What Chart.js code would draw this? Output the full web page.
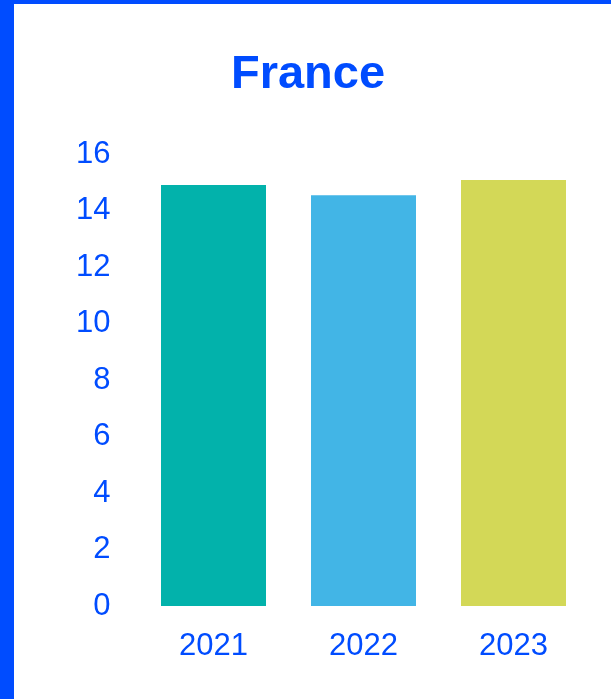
<!DOCTYPE html>
<html>
<head>
<meta charset="utf-8">
<script src="https://cdn.jsdelivr.net/npm/chart.js@4"></script>
<style>
  html, body { margin: 0; padding: 0; background: #ffffff; overflow: hidden; }
  #frame { position: absolute; left: 0; top: 0; width: 597px; height: 695px;
           border-left: 14px solid #004cff; border-top: 4px solid #004cff; background: #fff; }
  #c { display: block; }
</style>
</head>
<body>
<div id="frame"><canvas id="c" width="597" height="695"></canvas></div>
<script>
const titleText = "France";
const categories = ["2021", "2022", "2023"];
const values = [14.92, 14.56, 15.1];
const barColors = ["#02b2ab", "#42b5e6", "#d3d857"];
const yTicks = [0, 2, 4, 6, 8, 10, 12, 14, 16];

const textBlue = "#004cff";
const fontFamily = "'Liberation Sans', Arial, sans-serif";

new Chart(document.getElementById("c"), {
  type: "bar",
  data: {
    labels: categories,
    datasets: [{
      data: values,
      backgroundColor: barColors,
      borderWidth: 0,
      barPercentage: 0.7,
      categoryPercentage: 1.0
    }]
  },
  options: {
    responsive: false,
    animation: false,
    devicePixelRatio: 1,
    layout: { padding: { left: 0, right: 9, top: 0, bottom: 0 } },
    plugins: {
      legend: { display: false },
      tooltip: { enabled: false },
      title: {
        display: true,
        text: titleText,
        color: textBlue,
        font: { family: fontFamily, size: 47, weight: "bold", lineHeight: 1.2 },
        padding: { top: 43.3, bottom: 50.8 }
      }
    },
    scales: {
      x: {
        grid: { display: false, drawTicks: false, drawOnChartArea: false },
        border: { display: false },
        ticks: { color: textBlue, font: { family: fontFamily, size: 31 }, padding: 22, maxRotation: 0 },
        afterFit: (s) => { s.height = 93; }
      },
      y: {
        min: 0,
        max: 16,
        grid: { display: false, drawTicks: false, drawOnChartArea: false },
        border: { display: false },
        afterBuildTicks: (s) => { s.ticks = yTicks.map(v => ({ value: v })); },
        ticks: { color: textBlue, font: { family: fontFamily, size: 31 }, padding: 28 },
        afterFit: (s) => { s.width = 124.5; }
      },
      yRight: {
        position: "right",
        min: 0,
        max: 16,
        grid: { display: false, drawTicks: false, drawOnChartArea: false },
        border: { display: false },
        ticks: { display: false },
        afterFit: (s) => { s.width = 13.5; }
      }
    }
  }
});
</script>
</body>
</html>
